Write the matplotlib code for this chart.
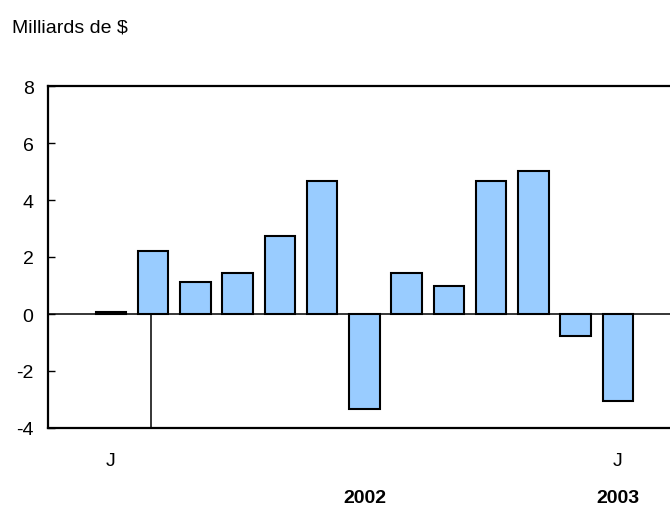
import matplotlib
matplotlib.use("Agg")
import matplotlib.pyplot as plt
import numpy as np

plt.rcParams['font.family'] = ['Liberation Sans', 'DejaVu Sans']

# Data (monthly, Jan 2002 .. Jan 2003), billions of $
values = [0.07, 2.21, 1.13, 1.43, 2.72, 4.67, -3.33, 1.43, 0.99, 4.67, 5.03, -0.76, -3.05]
month_labels = {0: "J", 12: "J"}
year_labels = {6: "2002", 12: "2003"}
yticks = [-4, -2, 0, 2, 4, 6, 8]
title = "Milliards de $"
divider_x = 0.94

W, H = 670, 506
fig = plt.figure(figsize=(W / 100, H / 100), dpi=100)
left_px, right_px = 47.5, 47.5 + 15 * 42.25
top_px, bottom_px = 87, 429
ax = fig.add_axes([left_px / W, 1 - bottom_px / H, (right_px - left_px) / W, (bottom_px - top_px) / H])

x = np.arange(len(values))
ax.bar(x, values, width=0.72, color="#99CCFF", edgecolor="black", linewidth=1.5, zorder=3)
ax.axhline(0, color="black", linewidth=1.1, zorder=2)
ax.plot([divider_x, divider_x], [-4, 0], color="black", linewidth=1.1, zorder=2)

ax.set_xlim(-1.5, 13.5)
ax.set_ylim(-4, 8)
ax.set_yticks(yticks)
ax.set_yticklabels([str(v) for v in yticks], fontsize=14)
ax.tick_params(axis="y", direction="in", length=5, width=1, pad=10)
ax.set_xticks([])
for s in ["left", "bottom", "top"]:
    ax.spines[s].set_linewidth(1.6)
ax.spines["right"].set_visible(False)

for i, lab in month_labels.items():
    ax.text(i, -5.15, lab, ha="center", va="center", fontsize=14)
for i, lab in year_labels.items():
    ax.text(i, -6.45, lab, ha="center", va="center", fontsize=14, fontweight="bold")

fig.text(12.5 / W, 1 - 28 / H, title, ha="left", va="center", fontsize=14)

fig.savefig("out.png", dpi=100)
